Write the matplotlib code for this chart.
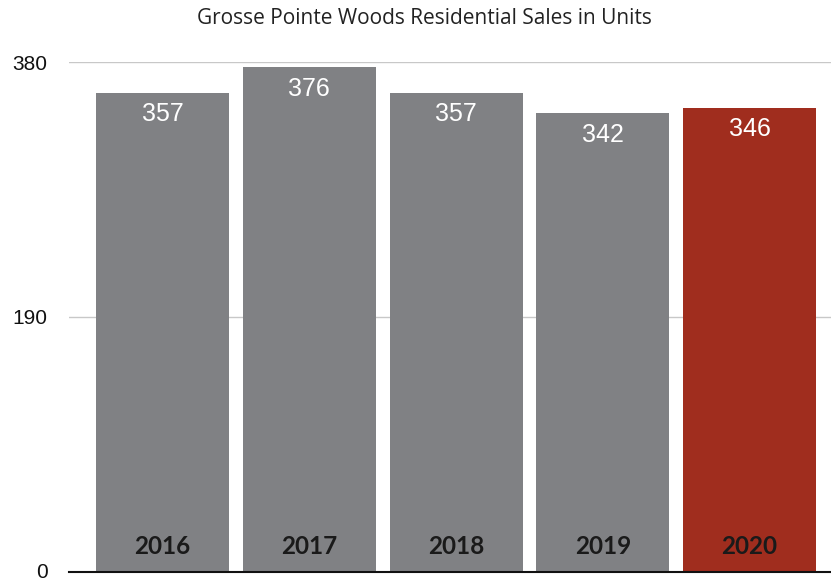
import matplotlib
matplotlib.use("Agg")
import matplotlib.pyplot as plt
from matplotlib.transforms import ScaledTranslation

years = ["2016", "2017", "2018", "2019", "2020"]
sales = [357, 376, 357, 342, 346]
bar_colors = ["#808184", "#808184", "#808184", "#808184", "#a02d1e"]
y_ticks = [0, 190, 380]

fig = plt.figure(figsize=(8.31, 5.81), dpi=100)
ax = fig.add_axes([69 / 831, 9 / 581, 1 - 69 / 831, 510 / 581])

x = list(range(len(years)))
ax.bar(x, sales, width=0.906, color=bar_colors, zorder=2)

ax.set_xlim(-0.637, 4.555)
ax.set_ylim(0, 380)
ax.set_yticks(y_ticks)
ax.set_yticklabels([str(t) for t in y_ticks], fontsize=15,
                   family=["Liberation Sans", "DejaVu Sans"], color="#111111")
ax.tick_params(axis="y", length=0, pad=15.5)
ax.set_xticks([])

# keep the zero label inside the canvas
zero_label = ax.get_yticklabels()[0]
zero_label.set_transform(zero_label.get_transform()
                         + ScaledTranslation(0, 2 / 100, fig.dpi_scale_trans))

ax.grid(axis="y", color="#c8c8c8", linewidth=1, zorder=0)
for side in ("top", "right", "left"):
    ax.spines[side].set_visible(False)
ax.spines["bottom"].set_color("#111111")
ax.spines["bottom"].set_linewidth(1.5)
ax.spines["bottom"].set_zorder(3)

for xi, v, yr in zip(x, sales, years):
    ax.annotate(str(v), (xi, v), xytext=(0, -15.5), textcoords="offset points",
                ha="center", va="center", color="white", fontsize=18,
                family=["Liberation Sans", "DejaVu Sans"], zorder=4)
    ax.annotate(yr, (xi, 0), xytext=(0, 18), textcoords="offset points",
                ha="center", va="center", color="#1a1a1a", fontsize=17.5,
                fontweight="bold", family=["Lato", "DejaVu Sans"], zorder=4)

fig.text(424 / 831, 1 - 19 / 581, "Grosse Pointe Woods Residential Sales in Units",
         ha="center", va="center", fontsize=15, color="#222222",
         family=["Open Sans", "DejaVu Sans"])

fig.savefig("out.png", dpi=100)
